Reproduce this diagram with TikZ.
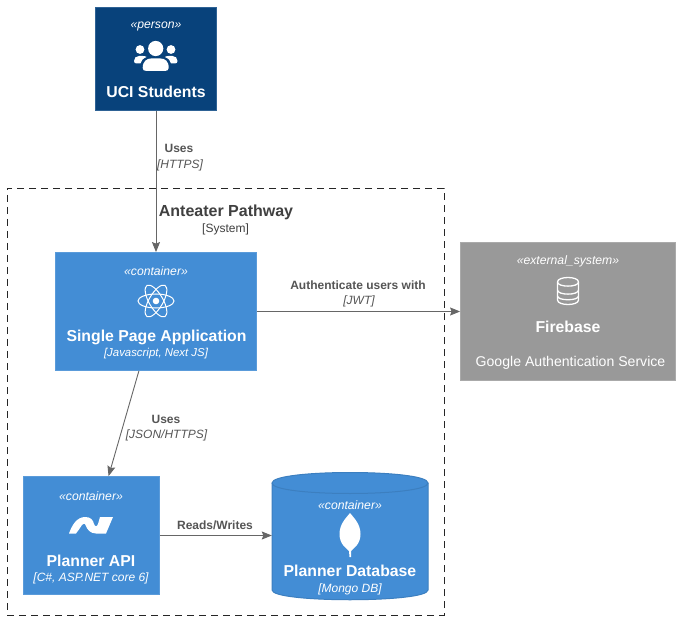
\documentclass[tikz,border=0pt]{standalone}
\usepackage{fontspec}
\setmainfont{Liberation Sans}
\usetikzlibrary{arrows.meta}
\definecolor{persona}{HTML}{08427B}
\definecolor{personb}{HTML}{2E6295}
\definecolor{conta}{HTML}{438DD5}
\definecolor{contb}{HTML}{5A9BDA}
\definecolor{exta}{HTML}{999999}
\definecolor{extb}{HTML}{AAAAAA}
\definecolor{dbb}{HTML}{3C7FC0}
\definecolor{linec}{HTML}{666666}
\definecolor{labc}{HTML}{555555}
\tikzset{
 box/.style={draw,line width=0.8pt,inner sep=0pt,minimum width=#1},
 txt/.style={inner sep=0pt,align=center,text=white},
 stereo/.style={txt,font=\fontsize{12.2}{14}\selectfont\itshape},
 ttl/.style={txt,font=\fontsize{15.8}{18}\selectfont\bfseries},
 tech/.style={txt,font=\fontsize{12}{14}\selectfont\itshape},
 rel/.style={draw=linec,line width=0.9pt,-{Stealth[length=10pt,width=8pt,inset=1.5pt]}},
 lab/.style={inner sep=0pt,text=labc,font=\fontsize{12}{14}\selectfont\bfseries},
 labi/.style={inner sep=0pt,text=labc,font=\fontsize{12}{14}\selectfont\itshape},
}
\begin{document}
\begin{tikzpicture}[x=1pt,y=-1pt]
\useasboundingbox[fill=white] (0,0) rectangle (680,620);
% boundary
\node[draw=black!85,dash pattern=on 7pt off 5pt,line width=0.7pt,minimum width=437pt,minimum height=427pt,inner sep=0pt] (bnd) at (225.5,401.5) {};
\node[inner sep=0pt,text=black!75,font=\fontsize{16}{18}\selectfont\bfseries] (bname) at (226,212) {Anteater Pathway};
\node[inner sep=0pt,text=black!75,font=\fontsize{12}{14}\selectfont] (btype) at (225.5,229.5) {[System]};
% boxes
\node[box=121pt,fill=persona,draw=personb,minimum height=103pt] (stu) at (156,59) {};
\node[box=201pt,fill=conta,draw=contb,minimum height=118pt] (spa) at (156,311.5) {};
\node[box=215pt,fill=exta,draw=extb,minimum height=138pt] (fb) at (568,311.5) {};
\node[box=136pt,fill=conta,draw=contb,minimum height=118pt] (api) at (91.5,535.5) {};
% database
\path[fill=conta,draw=dbb,line width=1pt] (272,483) -- (272,590) .. controls (272,603) and (428,603) .. (428,590) -- (428,483) .. controls (428,469) and (272,469) .. (272,483) -- cycle;
\draw[dbb,line width=1pt] (272,483) .. controls (272,497) and (428,497) .. (428,483);
\node[inner sep=0pt,minimum width=156pt,minimum height=127pt] (db) at (350,535.5) {};
% connectors
\draw[rel] (stu) -- (spa);
\draw[rel] (spa) -- (fb);
\draw[rel] (spa) -- (api);
\draw[rel] (api) -- (db.west);
% connector labels
\node[lab] (l1) at (179,148.5) {Uses};
\node[labi] (l1b) at (180,165) {[HTTPS]};
\node[lab] (l2) at (358,285) {Authenticate users with};
\node[labi] (l2b) at (359,301.5) {[JWT]};
\node[lab] (l3) at (166,419) {Uses};
\node[labi] (l3b) at (166.5,435.5) {[JSON/HTTPS]};
\node[lab] (l4) at (215,525) {Reads/Writes};
% student text
\node[stereo] (s1) at (156,26) {«person»};
\node[ttl] (s2) at (156,92) {UCI Students};
\fill[white] (140,49.5) circle (4.4pt) (171,49.5) circle (4.4pt) (155.7,48.5) circle (7.6pt);
\fill[white] (142.7,68) .. controls (142.7,61) and (147,58.5) .. (151,58.5) -- (160.5,58.5) .. controls (165,58.5) and (168.7,61) .. (168.7,68) .. controls (168.7,70) and (167,71) .. (165,71) -- (146.5,71) .. controls (144,71) and (142.7,70) .. (142.7,68) -- cycle;
\fill[white] (134,61) .. controls (134,58) and (136,56) .. (139,56) -- (143,56) .. controls (145,56) and (146,56.5) .. (146.5,57) .. controls (143,58.5) and (141,60.5) .. (140.5,63.5) -- (136.5,63.5) .. controls (135,63.5) and (134,62.5) .. (134,61) -- cycle;
\fill[white] (177.5,61) .. controls (177.5,58) and (175.5,56) .. (172.5,56) -- (168.5,56) .. controls (166.5,56) and (165.5,56.5) .. (165,57) .. controls (168.5,58.5) and (170.5,60.5) .. (171,63.5) -- (175,63.5) .. controls (176.5,63.5) and (177.5,62.5) .. (177.5,61) -- cycle;
% spa text
\node[stereo] (a1) at (156,271) {«container»};
\node[ttl] (a2) at (156.5,337) {Single Page Application};
\node[tech,font=\fontsize{11.4}{14}\selectfont\itshape] (a3) at (156,354) {[Javascript, Next JS]};
\begin{scope}[draw=white,line width=1pt]
\draw (156,301) ellipse (18pt and 7pt);
\draw[rotate around={60:(156,301)}] (156,301) ellipse (18pt and 7pt);
\draw[rotate around={-60:(156,301)}] (156,301) ellipse (18pt and 7pt);
\fill[white] (156,301) circle (3.3pt);
\end{scope}
% firebase text
\node[stereo] (f1) at (568,261) {«external\_system»};
\node[ttl] (f2) at (568,327) {Firebase};
\node[txt,font=\fontsize{14.1}{16}\selectfont] (f3) at (570.5,363) {Google Authentication Service};
\begin{scope}[draw=white,line width=1.3pt]
\draw (557.5,282) .. controls (557.5,276) and (578.5,276) .. (578.5,282) -- (578.5,300) .. controls (578.5,306) and (557.5,306) .. (557.5,300) -- cycle;
\draw (557.5,282) .. controls (557.5,287.5) and (578.5,287.5) .. (578.5,282);
\draw (557.5,290) .. controls (557.5,295.5) and (578.5,295.5) .. (578.5,290);
\draw (557.5,296) .. controls (557.5,301) and (578.5,301) .. (578.5,296);
\end{scope}
% api text
\node[stereo] (p1) at (91,496) {«container»};
\node[ttl] (p2) at (91,561) {Planner API};
\node[tech] (p3) at (91,578) {[C\#, ASP.NET core 6]};
\fill[white] (69,533.5) .. controls (72,525) and (77,517) .. (85,517) .. controls (91,517) and (93,520) .. (94,524) .. controls (95,527) and (97,527) .. (98,524) -- (100,517) -- (113,517) -- (106,533.5) -- (96,533.5) .. controls (90,533.5) and (87,529) .. (86,526) .. controls (85,523) and (83,523) .. (82,525) .. controls (80,528) and (78,531) .. (76,533.5) -- cycle;
% db text
\node[stereo] (d1) at (350,505) {«container»};
\node[ttl] (d2) at (350,571) {Planner Database};
\node[tech] (d3) at (350,589) {[Mongo DB]};
\fill[white] (350,513) .. controls (354,518) and (360.5,524) .. (360.5,534) .. controls (360.5,544) and (354,548) .. (351,551) -- (351,557) -- (349.5,557) -- (349,551) .. controls (346,548) and (339.5,544) .. (339.5,534) .. controls (339.5,524) and (346,518) .. (350,513) -- cycle;
\end{tikzpicture}
\end{document}
